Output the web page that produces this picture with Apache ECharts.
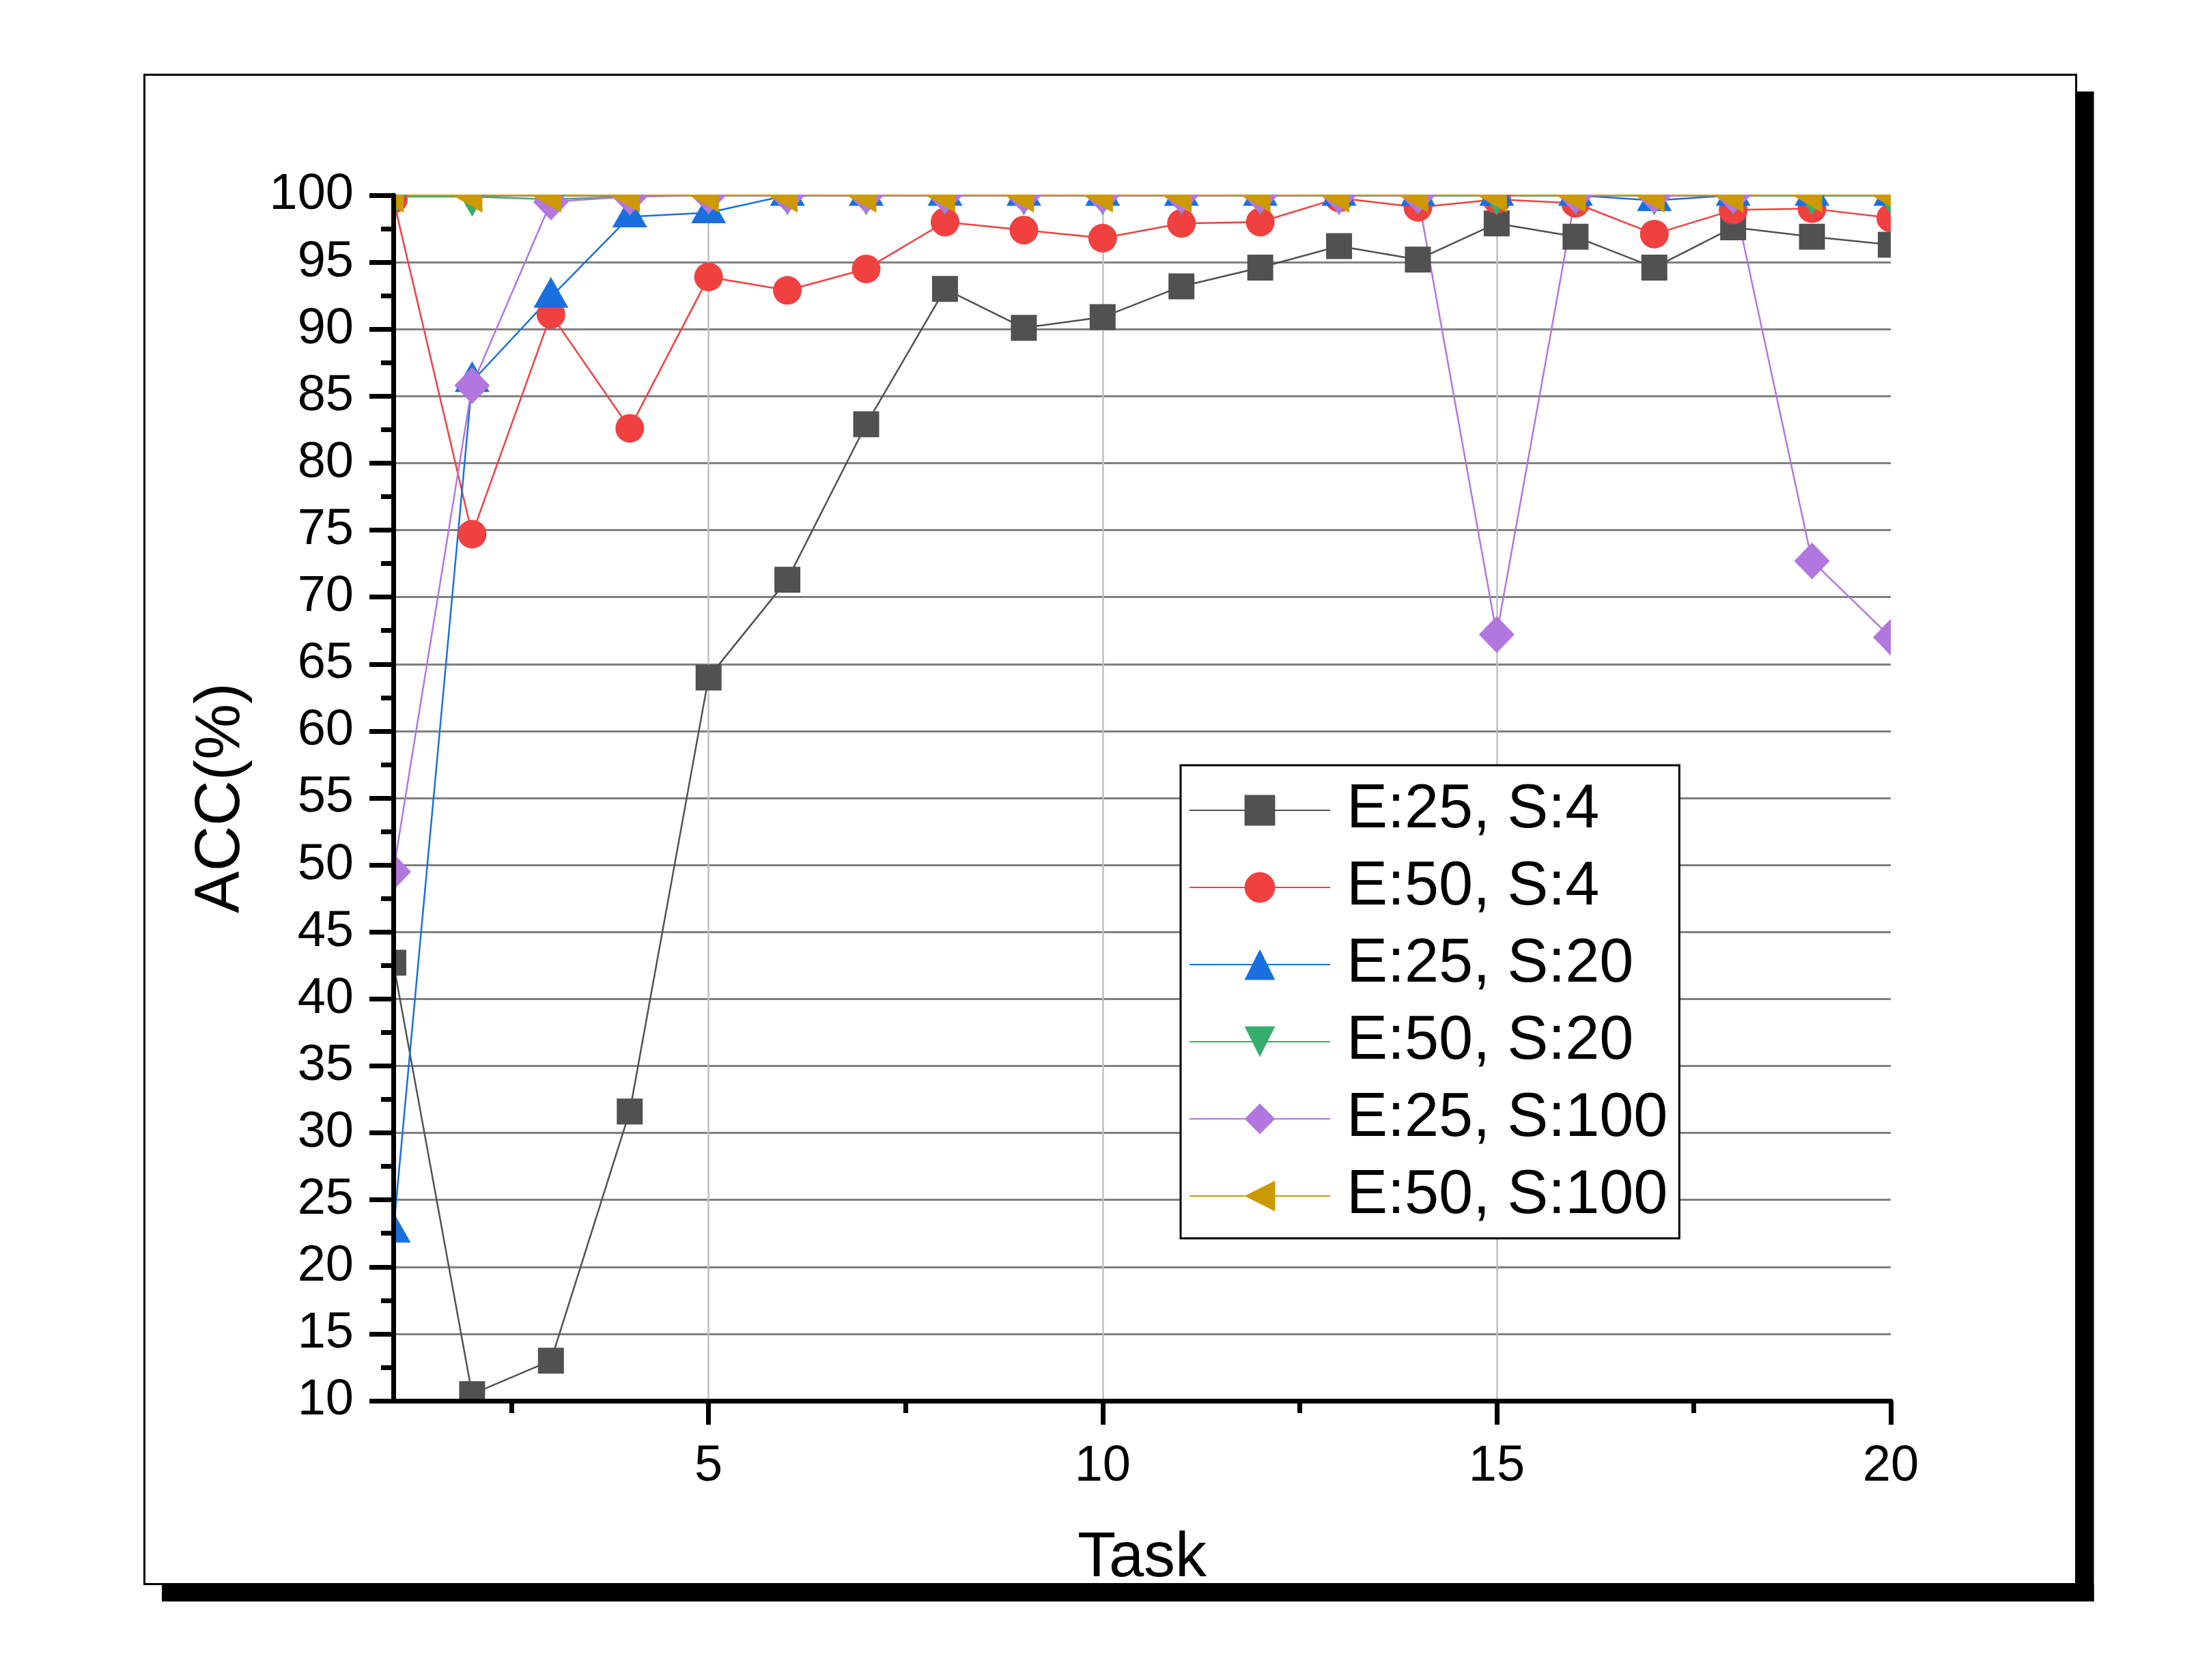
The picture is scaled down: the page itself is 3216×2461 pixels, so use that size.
<!DOCTYPE html>
<html>
<head>
<meta charset="utf-8">
<script src="https://cdn.jsdelivr.net/npm/echarts@6/dist/echarts.min.js"></script>
<style>
html,body{margin:0;padding:0;background:#fff;}
#chart{width:3216px;height:2461px;}
</style>
</head>
<body>
<div id="chart"></div>
<script>
// ---- data ----
const tasks = [1,2,3,4,5,6,7,8,9,10,11,12,13,14,15,16,17,18,19,20];
const seriesNames = ['E:25, S:4','E:50, S:4','E:25, S:20','E:50, S:20','E:25, S:100','E:50, S:100'];
const e25s4   = [42.7,10.5,13.0,31.6,64.0,71.3,82.9,93.0,90.1,90.9,93.2,94.6,96.2,95.2,97.9,96.9,94.6,97.6,96.9,96.3];
const e50s4   = [99.7,74.7,91.1,82.6,93.9,92.9,94.5,98.0,97.4,96.8,97.9,98.0,99.8,99.1,99.7,99.4,97.1,98.9,99.0,98.3];
const e25s20  = [22.6,86.1,92.4,98.4,98.7,100,100,100,100,100,100,100,100,100,100,100,99.6,100,100,100];
const e50s20  = [99.9,99.9,99.7,99.9,100,100,100,100,100,100,100,100,100,100,100,100,100,100,100,100];
const e25s100 = [49.5,85.8,99.5,99.9,100,100,100,100,100,100,100,100,100,100,67.2,100,100,100,72.7,67.0];
const e50s100 = [100,100,100,100,100,100,100,100,100,100,100,100,100,100,100,100,100,100,100,100];
const xTickLabels = [5,10,15,20];
const xMinorTicks = [2.5,7.5,12.5,17.5];
const xGridLines = [5,10,15];

const FONT = "'Liberation Sans', Arial, sans-serif";
const colors = ['#515151','#F14040','#1A6FDF','#37AD6B','#B177DE','#CC9900'];
const symbols = [
  {symbol:'rect', size:[38,38], rotate:0, offset:[0,0]},
  {symbol:'circle', size:42, rotate:0, offset:[0,0]},
  {symbol:'triangle', size:[51,45], rotate:0, offset:[0,-7]},
  {symbol:'triangle', size:[51,45], rotate:180, offset:[0,7]},
  {symbol:'diamond', size:[52,54], rotate:0, offset:[0,0]},
  {symbol:'triangle', size:[51,44], rotate:90, offset:[-7,0]}
];
const allData = [e25s4,e50s4,e25s20,e50s20,e25s100,e50s100];

const G = {left:576, right:447, top:286, bottom:409};
const W = 3216, H = 2461;
const plotR = W - G.right, plotB = H - G.bottom;

const series = allData.map((vals,i)=>({
  name: seriesNames[i],
  type:'line',
  xAxisIndex:0, yAxisIndex:0,
  data: tasks.map((t,j)=>[t, vals[j]]),
  symbol: symbols[i].symbol,
  symbolSize: symbols[i].size,
  symbolRotate: symbols[i].rotate,
  symbolOffset: symbols[i].offset,
  showAllSymbol:true,
  clip:false,
  lineStyle:{color:colors[i], width:2.5},
  itemStyle:{color:colors[i], borderWidth:0},
  emphasis:{disabled:true},
  z:2
}));

const chart = echarts.init(document.getElementById('chart'), null, {renderer:'canvas'});
chart.setOption({
  animation:false,
  backgroundColor:'#fff',
  grid:{left:G.left, right:G.right, top:G.top, bottom:G.bottom, containLabel:false},
  xAxis:[
    { // vertical grid lines
      type:'value', min:1, max:20, gridIndex:0, position:'bottom',
      axisLine:{show:false},
      axisTick:{show:false, customValues:xGridLines},
      axisLabel:{show:false},
      splitLine:{show:true, lineStyle:{color:'#C0C0C0', width:2.5}},
      z:0
    },
    { // main axis
      type:'value', min:1, max:20, gridIndex:0, position:'bottom',
      axisLine:{show:true, onZero:false, lineStyle:{color:'#000', width:7}},
      axisTick:{show:true, inside:false, length:35, customValues:xTickLabels, lineStyle:{color:'#000', width:7}},
      axisLabel:{show:true, customValues:xTickLabels, margin:60, fontSize:74, lineHeight:74, color:'#000', fontFamily:FONT},
      splitLine:{show:false},
      name:'Task', nameLocation:'middle', nameGap:186,
      nameTextStyle:{fontSize:92, lineHeight:92, color:'#000', fontFamily:FONT},
      z:200
    },
    { // minor ticks
      type:'value', min:1, max:20, gridIndex:0, position:'bottom',
      axisLine:{show:false, onZero:false},
      axisTick:{show:true, inside:false, length:18, customValues:xMinorTicks, lineStyle:{color:'#000', width:7}},
      axisLabel:{show:false},
      splitLine:{show:false},
      z:200
    }
  ],
  yAxis:[
    { // horizontal grid lines
      type:'value', min:10, max:100, interval:5, position:'left',
      axisLine:{show:false}, axisTick:{show:false}, axisLabel:{show:false},
      splitLine:{show:true, lineStyle:{color:'#808080', width:3}},
      z:0
    },
    { // main axis
      type:'value', min:10, max:100, interval:5, position:'left',
      axisLine:{show:true, onZero:false, lineStyle:{color:'#000', width:7}},
      axisTick:{show:true, inside:false, length:35, lineStyle:{color:'#000', width:7}},
      minorTick:{show:true, splitNumber:2, length:18, lineStyle:{color:'#000', width:7}},
      axisLabel:{show:true, margin:58, fontSize:74, color:'#000', fontFamily:FONT},
      splitLine:{show:false},
      name:'ACC(%)', nameLocation:'middle', nameGap:205,
      nameTextStyle:{fontSize:92, lineHeight:92, color:'#000', fontFamily:FONT},
      z:200
    }
  ],
  legend:{
    show:true, orient:'vertical', left:1729, top:1121,
    padding:[16,17,12,12],
    itemWidth:206, itemHeight:56, itemGap:13,
    borderColor:'#000', borderWidth:3, backgroundColor:'#fff',
    textStyle:{fontSize:90, lineHeight:100, color:'#000', fontFamily:FONT, padding:[0,0,0,19]},
    data:seriesNames,
    selectedMode:false,
    z:300
  },
  graphic:[
    // masks clipping markers outside the plot area
    {type:'rect', shape:{x:0, y:0, width:W, height:G.top-1}, style:{fill:'#fff'}, z:100, silent:true},
    {type:'rect', shape:{x:0, y:0, width:G.left, height:H}, style:{fill:'#fff'}, z:100, silent:true},
    {type:'rect', shape:{x:plotR, y:0, width:W-plotR, height:H}, style:{fill:'#fff'}, z:100, silent:true},
    {type:'rect', shape:{x:0, y:plotB, width:W, height:H-plotB}, style:{fill:'#fff'}, z:100, silent:true},
    // frame and shadow
    {type:'rect', shape:{x:211.5, y:109.5, width:2829, height:2211}, style:{fill:'none', stroke:'#000', lineWidth:3}, z:150, silent:true},
    {type:'rect', shape:{x:3041.5, y:134, width:25, height:2212}, style:{fill:'#000'}, z:150, silent:true},
    {type:'rect', shape:{x:237, y:2321.5, width:2829.5, height:24.5}, style:{fill:'#000'}, z:150, silent:true}
  ],
  series: series
});
</script>
</body>
</html>
